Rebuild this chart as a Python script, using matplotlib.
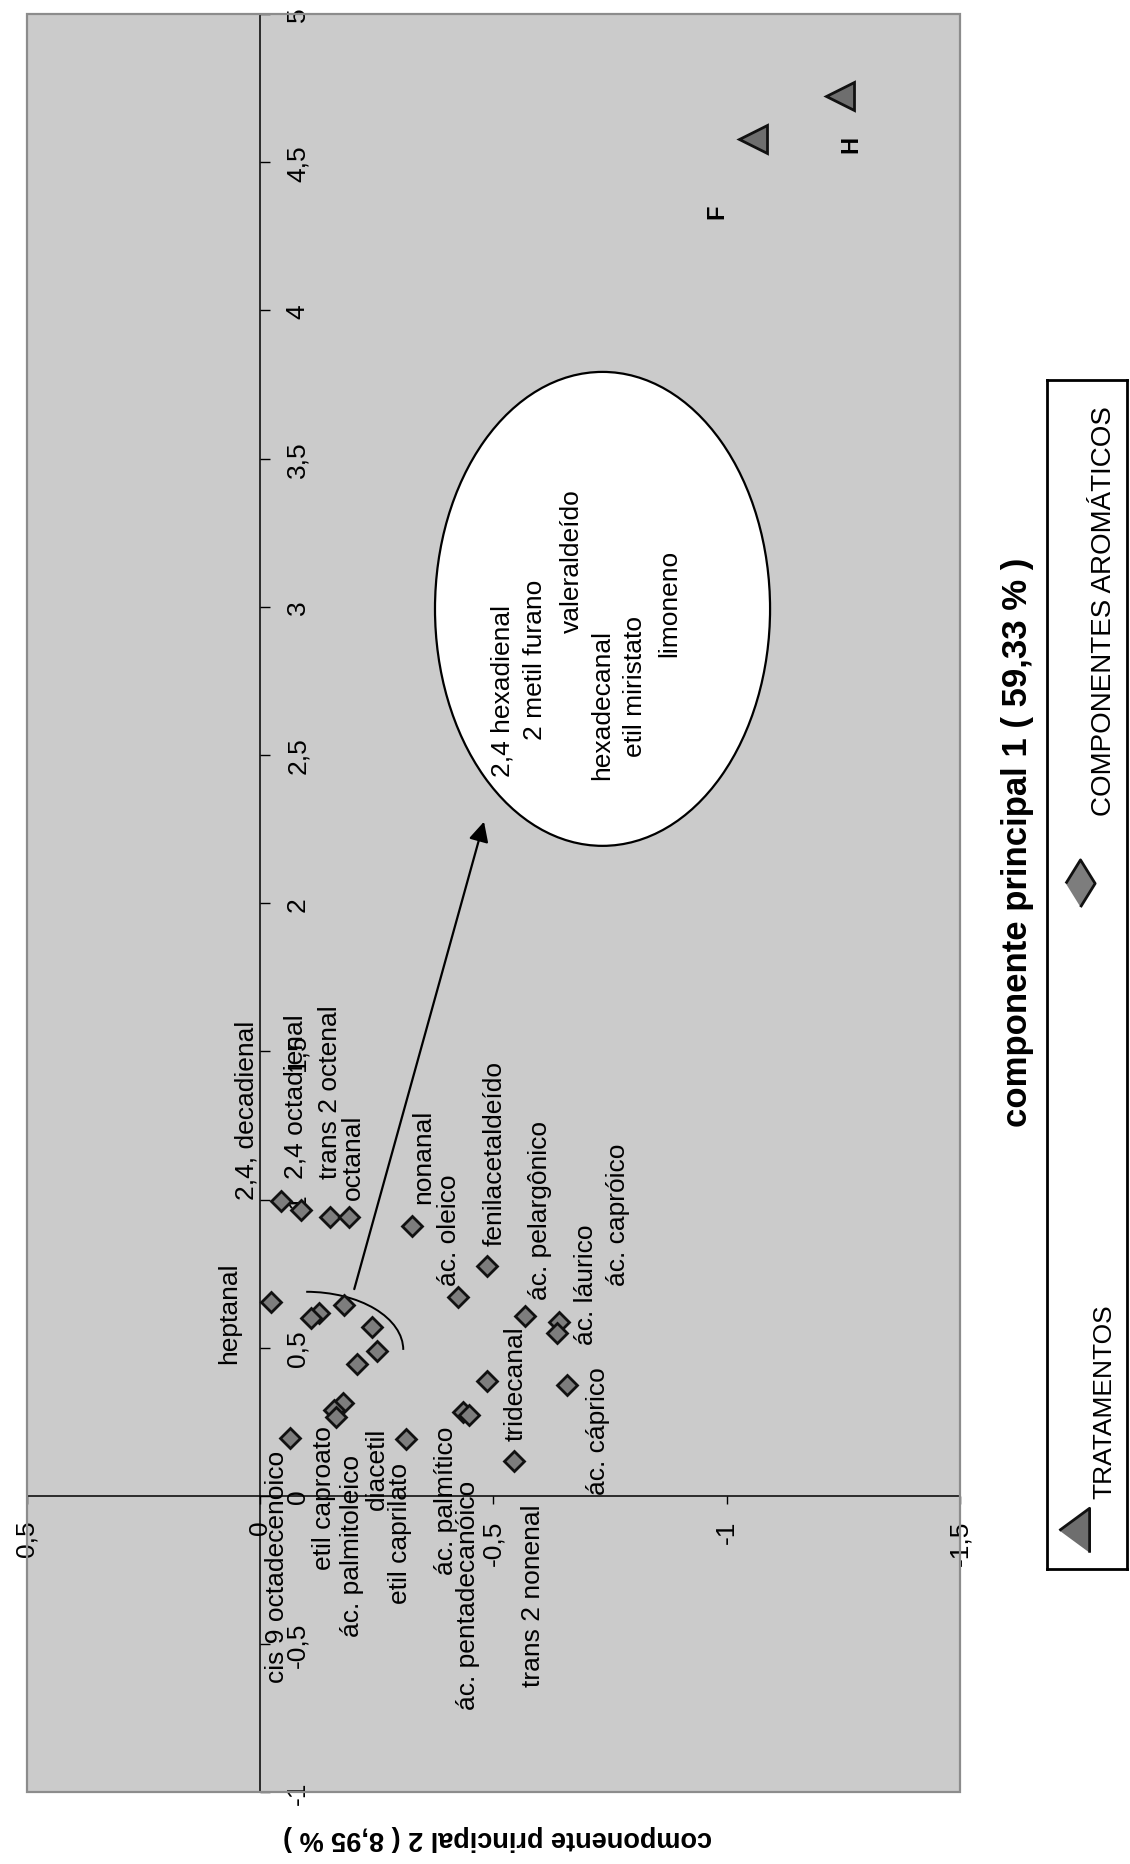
import matplotlib
matplotlib.use('Agg')
import matplotlib.pyplot as plt
from matplotlib.patches import Ellipse, Arc, Rectangle

plt.rcParams['font.family'] = ['Liberation Sans', 'DejaVu Sans']

## Scores of the aroma compounds on the two principal components
compostos = ['2,4, decadienal', '2,4 octadienal', 'trans 2 octenal', 'octanal', 'nonanal',
             'fenilacetaldeído', 'ác. oleico', 'heptanal', 'ác. pelargônico', 'ác. láurico',
             'ác. capróico', 'trans 2 nonenal', 'ác. cáprico', 'etil caproato', 'ác. palmitoleico',
             'diacetil', 'cis 9 octadecenoico', 'etil caprilato', 'ác. palmítico',
             'ác. pentadecanóico', 'tridecanal',
             '2,4 hexadienal', '2 metil furano', 'valeraldeído', 'hexadecanal',
             'etil miristato', 'limoneno']
cp1 = [0.996, 0.964, 0.942, 0.940, 0.912,
       0.776, 0.673, 0.655, 0.607, 0.586,
       0.550, 0.388, 0.376, 0.315, 0.291,
       0.267, 0.195, 0.191, 0.285,
       0.274, 0.117,
       0.616, 0.601, 0.643, 0.570, 0.490, 0.445]
cp2 = [-0.046, -0.088, -0.149, -0.191, -0.325,
       -0.487, -0.424, -0.024, -0.568, -0.641,
       -0.637, -0.487, -0.658, -0.178, -0.158,
       -0.162, -0.065, -0.312, -0.436,
       -0.447, -0.545,
       -0.126, -0.109, -0.179, -0.240, -0.251, -0.208]

## Treatments
tratamentos = ['F', 'H']
trat_cp1 = [4.578, 4.724]
trat_cp2 = [-1.057, -1.243]

## Axis ticks
ticks_cp1 = [-1, -0.5, 0, 0.5, 1, 1.5, 2, 2.5, 3, 3.5, 4, 4.5, 5]
ticks_cp2 = [0.5, 0, -0.5, -1, -1.5]

## Where each compound name starts (cp2, cp1)
pos_rotulos = {
    '2,4, decadienal': (0.029, 1.002),
    '2,4 octadienal': (-0.076, 1.074),
    'trans 2 octenal': (-0.149, 1.074),
    'octanal': (-0.200, 1.002),
    'nonanal': (-0.350, 0.990),
    'ác. oleico': (-0.406, 0.713),
    'fenilacetaldeído': (-0.502, 0.846),
    'ác. pelargônico': (-0.599, 0.664),
    'ác. láurico': (-0.698, 0.514),
    'ác. capróico': (-0.767, 0.713),
    'heptanal': (0.067, 0.448),
    'tridecanal': (-0.548, 0.189),
    'ác. cáprico': (-0.725, 0.008),
    'cis 9 octadecenoico': (-0.037, -0.628),
    'etil caproato': (-0.138, -0.246),
    'ác. palmitoleico': (-0.197, -0.472),
    'diacetil': (-0.250, -0.044),
    'etil caprilato': (-0.300, -0.361),
    'ác. palmítico': (-0.399, -0.263),
    'ác. pentadecanóico': (-0.446, -0.719),
    'trans 2 nonenal': (-0.586, -0.640),
    # grupo destacado dentro da elipse
    '2,4 hexadienal': (-0.519, 2.429),
    '2 metil furano': (-0.590, 2.554),
    'valeraldeído': (-0.668, 2.915),
    'hexadecanal': (-0.734, 2.419),
    'etil miristato': (-0.804, 2.497),
    'limoneno': (-0.877, 2.834),
}
pos_trat = {'F': (-0.979, 4.337), 'H': (-1.266, 4.562)}


def virgula(v):
    return ('%g' % v).replace('.', ',')


fig = plt.figure(figsize=(11.3, 18.65), dpi=100)
W, H = 1130, 1865
ax = fig.add_axes([26.65 / W, 1 - 1793.4 / H, 933.35 / W, 1778.4 / H])

## page is turned on its side: cp2 runs left-right (reversed), cp1 bottom-top
ax.set_xlim(0.5, -1.5)
ax.set_ylim(-1, 5)
ax.set_facecolor('#cbcbcb')

ax.spines['top'].set_visible(False)
ax.spines['left'].set_visible(False)
ax.spines['right'].set_position(('data', 0))
ax.spines['bottom'].set_position(('data', 0))
ax.spines['right'].set_linewidth(1.1)
ax.spines['bottom'].set_linewidth(1.1)
ax.yaxis.tick_right()
ax.xaxis.tick_bottom()
ax.add_patch(Rectangle((0, 0), 1, 1, transform=ax.transAxes, fill=False,
                       edgecolor='#8c8c8c', lw=1.6, clip_on=False, zorder=4))

ax.set_yticks(ticks_cp1, [virgula(t) for t in ticks_cp1], rotation=90, va='center')
ax.set_xticks(ticks_cp2, [virgula(t) for t in ticks_cp2], rotation=90)
ax.tick_params(axis='y', direction='out', length=7, width=1, pad=11.5, labelsize=19)
ax.tick_params(axis='x', direction='out', length=6, width=1, pad=11, labelsize=19)

## ellipse with the compounds that were grouped together
ax.add_patch(Ellipse((-0.734, 2.993), 0.718, 1.599, facecolor='white',
                     edgecolor='black', lw=1.6, zorder=2))
ax.add_patch(Arc((-0.099, 0.493), 0.416, 0.392, theta1=90, theta2=180,
                 color='black', lw=1.4, zorder=2))
ax.annotate('', xy=(-0.480, 2.275), xytext=(-0.202, 0.698),
            arrowprops=dict(arrowstyle='-|>', mutation_scale=30, lw=1.6,
                            color='black', shrinkA=0, shrinkB=0), zorder=2)

ax.plot(cp2, cp1, linestyle='none', marker='D', markersize=10.5,
        markerfacecolor='#7d7d7d', markeredgecolor='#111111', markeredgewidth=2,
        zorder=3)
ax.plot(trat_cp2, trat_cp1, linestyle='none', marker='<', markersize=19.5,
        markerfacecolor='#6e6e6e', markeredgecolor='#111111', markeredgewidth=2,
        zorder=3)

for nome in compostos:
    x, y = pos_rotulos[nome]
    ax.text(x, y, nome, rotation=90, rotation_mode='anchor', ha='left',
            va='center', fontsize=19, zorder=5)
for t in tratamentos:
    x, y = pos_trat[t]
    ax.text(x, y, t, rotation=90, rotation_mode='anchor', ha='center',
            va='center', fontsize=17, fontweight='bold', zorder=5)

## axis titles
fig.text(1017 / W, 1 - 842 / H, 'componente principal 1 ( 59,33 % )', rotation=90,
         rotation_mode='anchor', ha='center', va='center', fontsize=25,
         fontweight='bold')
fig.text(498 / W, 1 - 1838 / H, 'componente principal 2 ( 8,95 % )', rotation=180,
         rotation_mode='anchor', ha='center', va='center', fontsize=19.5,
         fontweight='bold')

## legend, drawn by hand because it is turned too
lg = fig.add_axes([1047 / W, 1 - 1570 / H, 80 / W, 1189 / H])
lg.set_xlim(0, 80)
lg.set_ylim(1189, 0)
lg.set_xticks([])
lg.set_yticks([])
for s in lg.spines.values():
    s.set_linewidth(2)
lg.set_facecolor('white')
losango = [(-0.31, 0), (0, 0.5), (0.31, 0), (0, -0.5)]
triangulo = [(-0.34, 0), (0.34, 0.5), (0.34, -0.5)]
lg.plot([33], [503], linestyle='none', marker=losango, markersize=34,
        markerfacecolor='#7d7d7d', markeredgecolor='#111111', markeredgewidth=2)
lg.plot([27], [1150], linestyle='none', marker=triangulo, markersize=32,
        markerfacecolor='#6e6e6e', markeredgecolor='#111111', markeredgewidth=2)
lg.text(57, 435, 'COMPONENTES AROMÁTICOS', rotation=90, rotation_mode='anchor',
        ha='left', va='center', fontsize=20)
lg.text(57, 1118, 'TRATAMENTOS', rotation=90, rotation_mode='anchor',
        ha='left', va='center', fontsize=19)

fig.savefig('out.png', dpi=100, facecolor='white')
